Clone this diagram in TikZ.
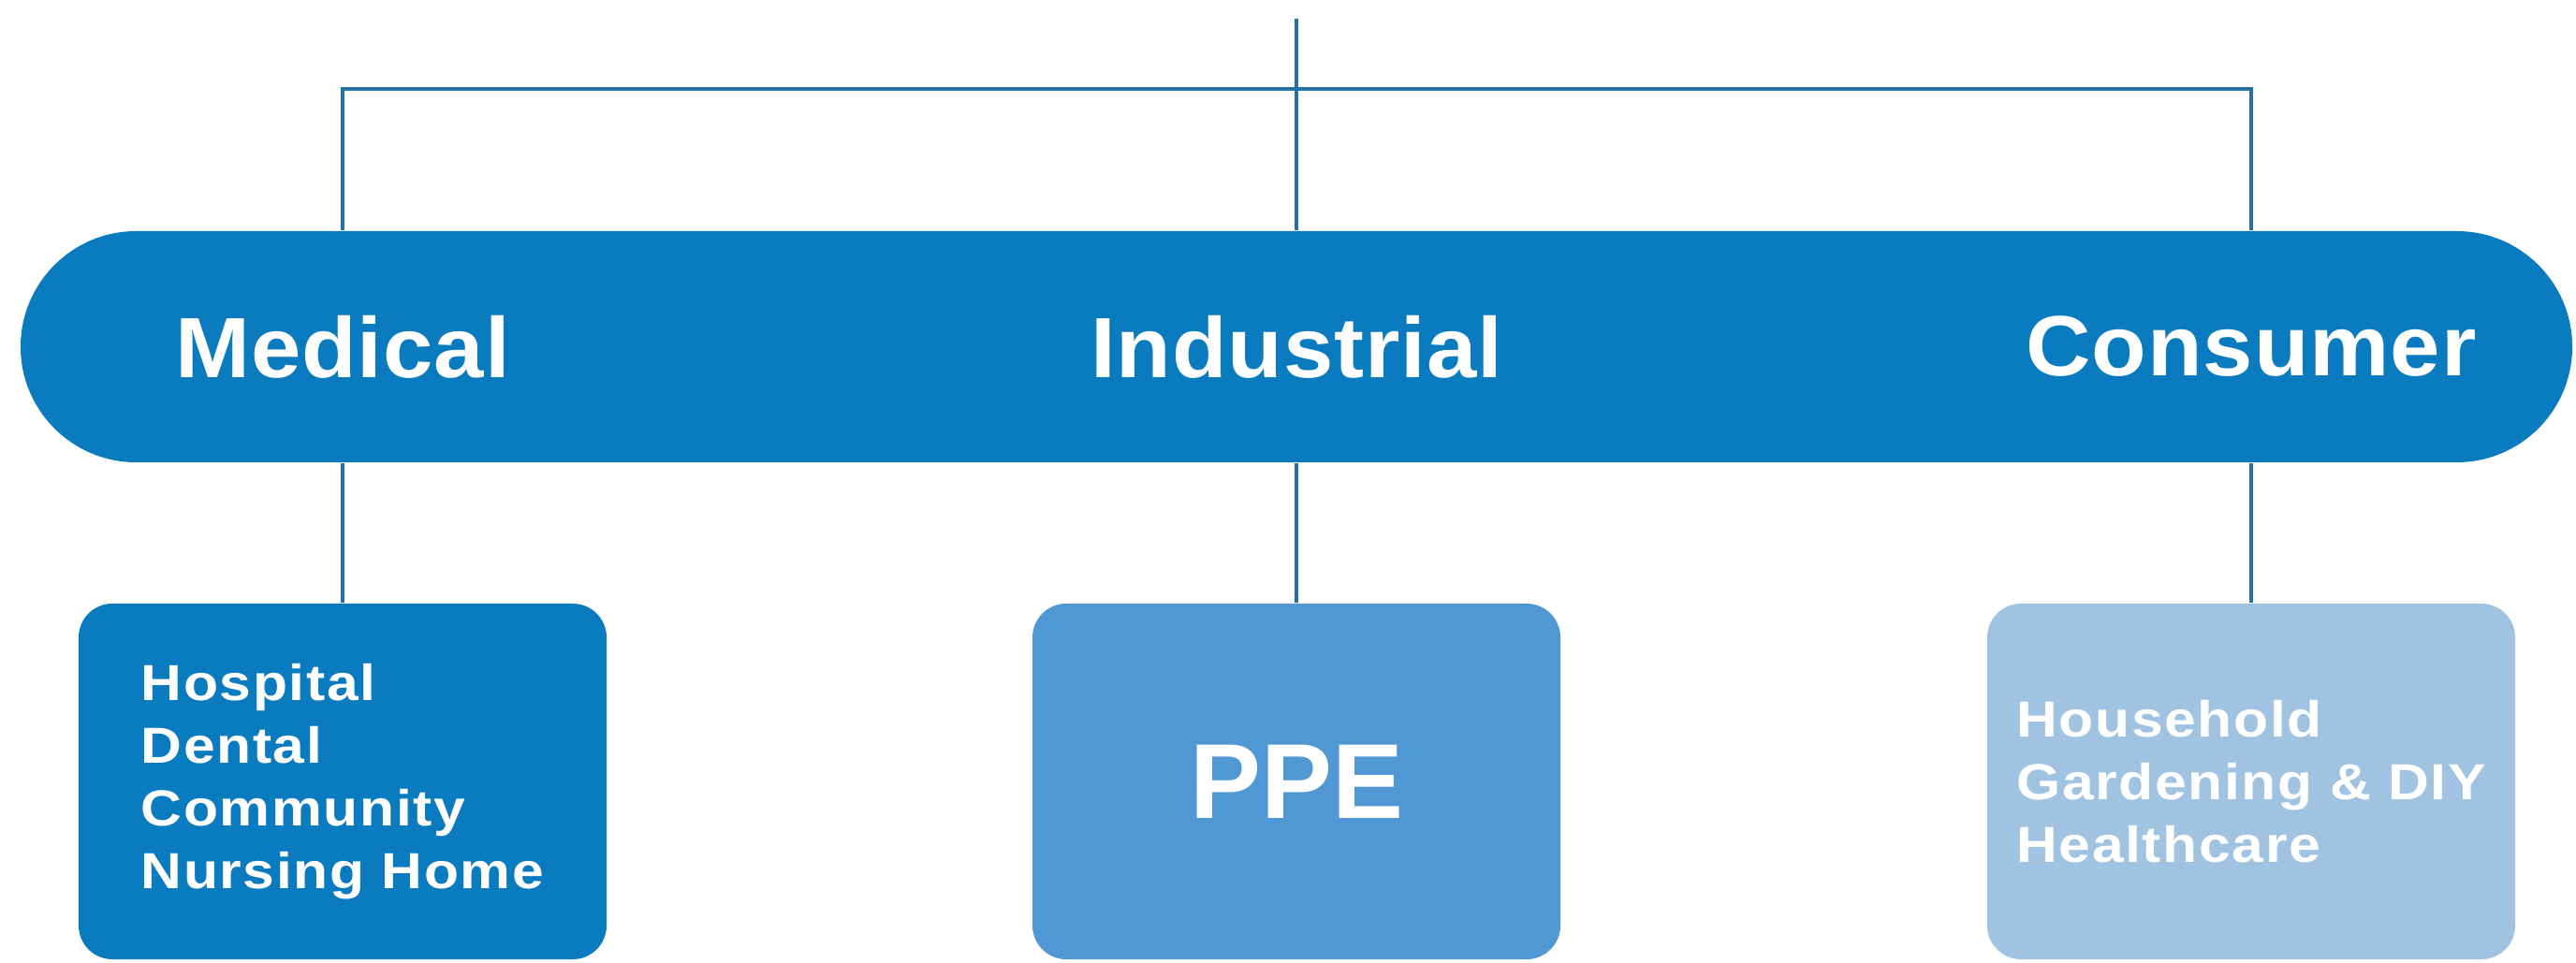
\documentclass[tikz,border=0pt]{standalone}
\usepackage{fontspec}
\setmainfont{Liberation Sans}
\newfontfamily\barfont[FakeStretch=1.05,LetterSpace=1]{Liberation Sans}
\newfontfamily\listfont[FakeStretch=1.12,LetterSpace=3]{Liberation Sans}
\usetikzlibrary{positioning}
\definecolor{barblue}{HTML}{0B7BC0}
\definecolor{midblue}{HTML}{4F98D4}
\definecolor{paleblue}{HTML}{A0C3E2}
\definecolor{linkblue}{HTML}{2472A4}

\begin{document}
\begin{tikzpicture}[
    bar/.style={fill=barblue, rounded corners=1.235cm, minimum width=27.26cm, minimum height=2.47cm, inner sep=0pt},
    sector/.style={text=white, font=\barfont\fontsize{26}{30}\selectfont\bfseries},
    catbox/.style={rounded corners=0.36cm, minimum width=5.64cm, minimum height=3.8cm, inner sep=0pt, text=white, align=left, font=\listfont\fontsize{15.4}{19}\selectfont\bfseries},
    link/.style={draw=linkblue, line width=1.1pt}
]
\useasboundingbox (0,0) rectangle (27.52,10.28);

\node[bar] (bar) at (13.85,6.575) {};
\node[sector] (medical) at (3.66,6.575) {Medical};
\node[sector] (industrial) at (13.85,6.575) {Industrial};
\node[sector] (consumer) at (24.05,6.575) {Consumer};

\node[catbox, fill=barblue] (medbox) at (3.66,1.93) {Hospital\\Dental\\Community\\Nursing Home};
\node[catbox, fill=midblue, align=center, font=\fontsize{32.4}{36}\selectfont\bfseries] (indbox) at (13.85,1.93) {PPE};
\node[catbox, fill=paleblue] (conbox) at (24.05,1.93) {Household\\Gardening \& DIY\\Healthcare};

\coordinate (top) at (13.85,10.08);
\coordinate (hub) at (13.85,9.33);

\draw[link] (top) -- (industrial |- bar.north);
\draw[link] (medical |- bar.north) -- (medical |- hub) -- (consumer |- hub) -- (consumer |- bar.north);
\draw[link] (medical |- bar.south) -- (medbox);
\draw[link] (industrial |- bar.south) -- (indbox);
\draw[link] (consumer |- bar.south) -- (conbox);
\end{tikzpicture}
\end{document}
